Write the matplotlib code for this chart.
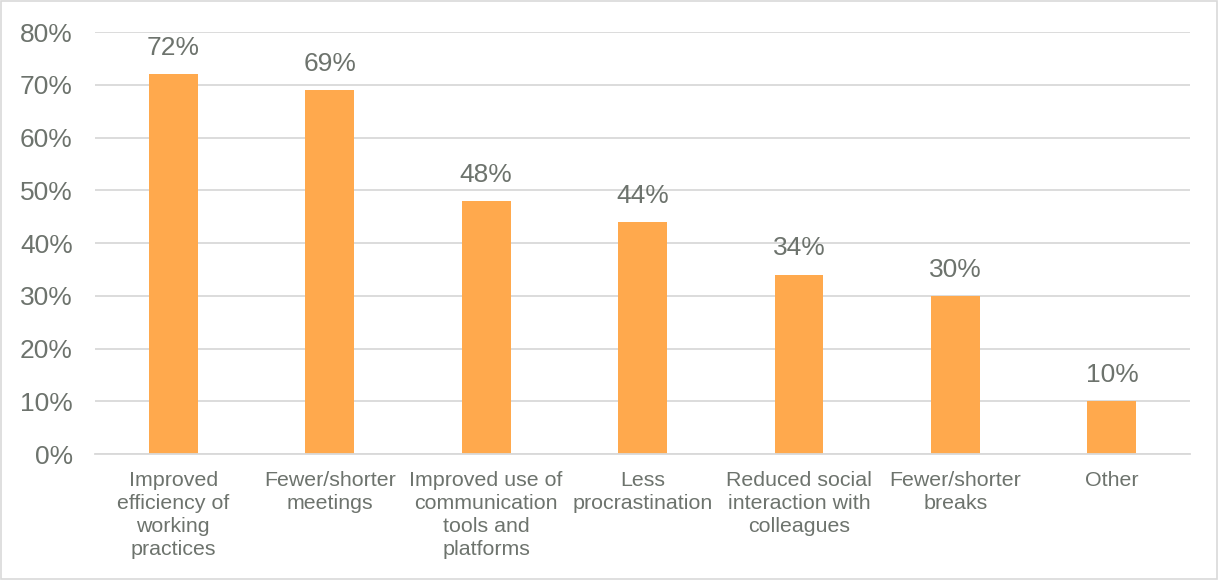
import matplotlib.pyplot as plt
from matplotlib.patches import Rectangle

plt.rcParams['font.family'] = ['Liberation Sans', 'DejaVu Sans']

categories = ["Improved\nefficiency of\nworking\npractices", "Fewer/shorter\nmeetings",
              "Improved use of\ncommunication\ntools and\nplatforms", "Less\nprocrastination",
              "Reduced social\ninteraction with\ncolleagues", "Fewer/shorter\nbreaks", "Other"]
values = [72, 69, 48, 44, 34, 30, 10]
yticks = [0, 10, 20, 30, 40, 50, 60, 70, 80]

text_col = "#6d736d"
bar_col = "#ffa94d"
grid_col = "#d9d9d9"

fig = plt.figure(figsize=(12.19, 5.8), dpi=100)
ax = fig.add_axes([0.0779, 0.2172, 0.8984, 0.7276])

x = range(len(values))
ax.bar(x, values, width=0.313, color=bar_col, zorder=2)
for i, v in zip(x, values):
    ax.text(i, v + 2.7, f"{v}%", ha="center", va="bottom", fontsize=19, color=text_col)

ax.set_xlim(-0.5, len(values) - 0.5)
ax.set_ylim(0, 80)
ax.set_yticks(yticks)
ax.set_yticklabels([f"{t}%" for t in yticks])
ax.set_xticks(list(x))
ax.set_xticklabels(categories, linespacing=1.28)
ax.grid(axis="y", color=grid_col, linewidth=1.3, zorder=0)
ax.tick_params(axis="y", length=0, labelsize=19, labelcolor=text_col, pad=16)
ax.tick_params(axis="x", length=0, labelsize=15.4, labelcolor=text_col, pad=12)
for s in ["top", "right", "left"]:
    ax.spines[s].set_visible(False)
ax.spines["bottom"].set_color(grid_col)
ax.spines["bottom"].set_linewidth(1.3)

fig.patches.append(Rectangle((0.001, 0.002), 0.997, 0.996, transform=fig.transFigure,
                             fill=False, edgecolor="#d9d9d9", linewidth=1.2))

plt.savefig("out.png", dpi=100)
